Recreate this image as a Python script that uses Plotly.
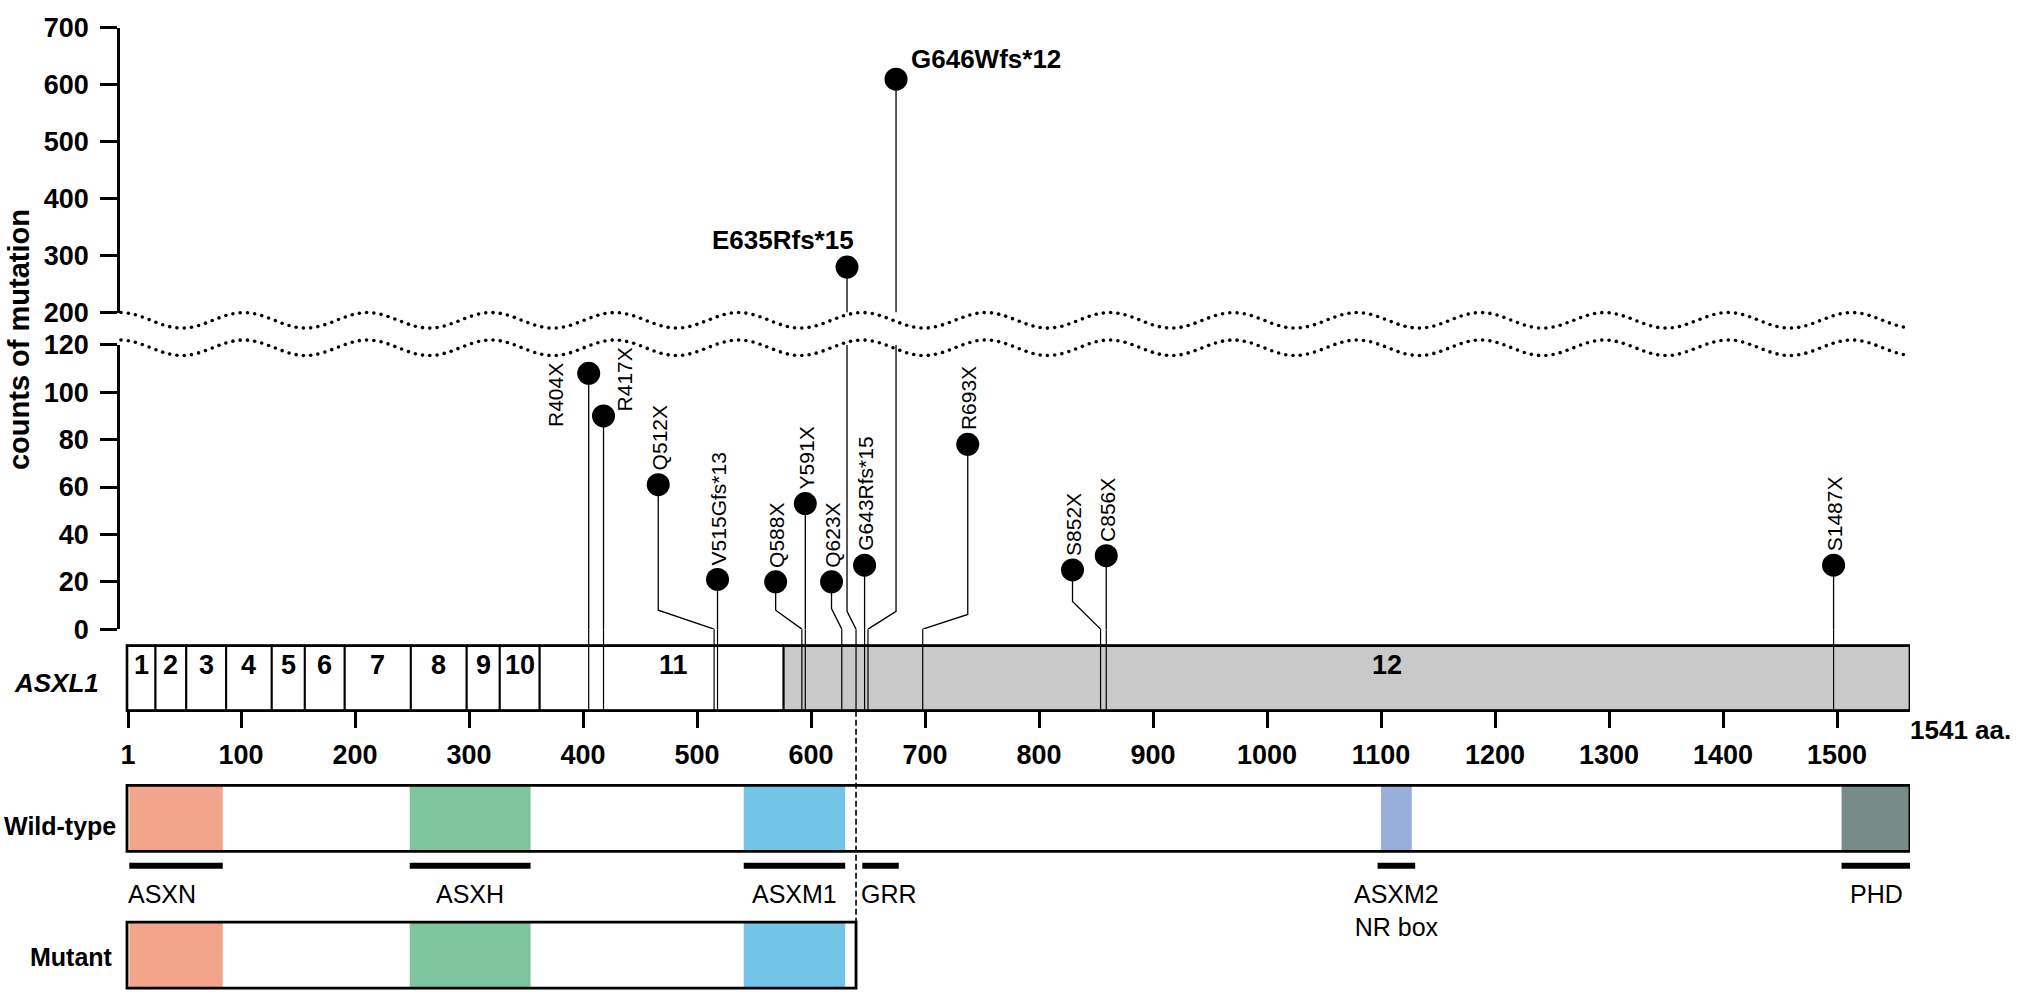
import numpy as np
import plotly.graph_objects as go

W, H = 2024, 1007
FONT = "Liberation Sans, Arial, Helvetica, sans-serif"

# ---------------- data ----------------
mut_names = ["R404X", "R417X", "Q512X", "V515Gfs*13", "Q588X", "Y591X", "Q623X",
             "E635Rfs*15", "G643Rfs*15", "G646Wfs*12", "R693X", "S852X", "C856X", "S1487X"]
# position (aa) where each stem meets the ASXL1 bar, as drawn
mut_site = [405, 418, 515, 518, 592, 595, 627, 639.5, 647, 650, 698, 854, 859, 1497]
mut_count = [108, 90, 61, 21, 20, 53, 20, 280, 27, 610, 78, 25, 31, 27]

exon_labels = ["1", "2", "3", "4", "5", "6", "7", "8", "9", "10", "11", "12"]
exon_bounds = [1, 25, 52, 87, 127, 156, 191, 249, 298, 327, 362, 576, 1564]

domain_names = ["ASXN", "ASXH", "ASXM1", "ASXM2", "PHD"]
domain_start = [2, 248, 541, 1100, 1504]
domain_end = [84, 354, 630, 1127, 1564]

bar_names = ["ASXN", "ASXH", "ASXM1", "GRR", "ASXM2<br>NR box", "PHD"]
bar_start = [2, 248, 541, 645, 1097, 1504]
bar_end = [84, 354, 630, 677, 1130, 1566]

truncation_aa = 639.5
protein_len_label = "1541 aa."

x_ticks = [1, 100, 200, 300, 400, 500, 600, 700, 800, 900, 1000, 1100, 1200, 1300, 1400, 1500]
lower_ticks = [0, 20, 40, 60, 80, 100, 120]
upper_ticks = [200, 300, 400, 500, 600, 700]

# ---------------- layout helpers (positions / styles) ----------------
def py(p):
    return 1 - p / H

def pxf(p):
    return p / W

# lollipop head x-positions (aa) and bend heights (count) used to avoid overlaps
head_x = [405, 418, 466, 518, 569, 595, 618, 631.6, 647, 674.6, 737.5, 829.4, 859, 1497]
bend_y = [None, None, 8, None, 8, None, 8.7, 7.5, None, 7.5, 6.2, 11.7, None, None]

exon_label_x = [(a + b) / 2 for a, b in zip(exon_bounds[:-1], exon_bounds[1:])]
exon_label_x[10] = 479
exon_label_x[11] = 1105

domain_colors = ["#F3A58B", "#7EC49C", "#73C5E7", "#98AFDC", "#798B89"]
exon_fill = ["white"] * 11 + ["#C8C9C8"]

BOX_TOP, BOX_BOT = 650, 717
WT_TOP, WT_BOT = 794, 862
MU_TOP, MU_BOT = 935, 1003
BAR_Y = 877
LAB_TOP = 889
STEM_TOP = 633

fig = go.Figure()

# ---- stems ----
lx, ly, ux, uy = [], [], [], []
for i, c in enumerate(mut_count):
    h, s, b = head_x[i], mut_site[i], bend_y[i]
    if c <= 120:
        if b is None:
            lx += [h, h, s, None]; ly += [c, 0, 0, None]
        else:
            lx += [h, h, s, None]; ly += [c, b, 0, None]
    else:
        ux += [h, h, None]; uy += [c, 200, None]
        lx += [h, h, s, None]; ly += [120, b, 0, None]

fig.add_trace(go.Scatter(x=lx, y=ly, mode="lines", line=dict(color="black", width=1.3),
                         xaxis="x", yaxis="y", hoverinfo="skip", showlegend=False))
fig.add_trace(go.Scatter(x=ux, y=uy, mode="lines", line=dict(color="black", width=1.3),
                         xaxis="x", yaxis="y2", hoverinfo="skip", showlegend=False))

lo_idx = [i for i, c in enumerate(mut_count) if c <= 120]
hi_idx = [i for i, c in enumerate(mut_count) if c > 120]
fig.add_trace(go.Scatter(x=[head_x[i] for i in lo_idx], y=[mut_count[i] for i in lo_idx],
                         mode="markers", marker=dict(color="black", size=23),
                         xaxis="x", yaxis="y", cliponaxis=False, showlegend=False,
                         text=[mut_names[i] for i in lo_idx], hoverinfo="text"))
fig.add_trace(go.Scatter(x=[head_x[i] for i in hi_idx], y=[mut_count[i] for i in hi_idx],
                         mode="markers", marker=dict(color="black", size=23),
                         xaxis="x", yaxis="y2", cliponaxis=False, showlegend=False,
                         text=[mut_names[i] for i in hi_idx], hoverinfo="text"))

# ---- axis-break waves (decorative, pixel overlay) ----
def wave_pts(yc, x0=121, x1=1908, amp=8.0, period=123.7, phase=120, step=7.3):
    xs = np.linspace(x0, x1, 6000)
    ys = yc - amp * np.cos(2 * np.pi * (xs - phase) / period)
    s = np.concatenate([[0], np.cumsum(np.hypot(np.diff(xs), np.diff(ys)))])
    t = np.arange(0, s[-1], step)
    return np.interp(t, s, xs), np.interp(t, s, ys)

for yc in (314.7, 343.0):
    wx, wy = wave_pts(yc)
    fig.add_trace(go.Scatter(x=wx, y=wy, mode="markers", marker=dict(color="black", size=3.6),
                             xaxis="x2", yaxis="y3", hoverinfo="skip", showlegend=False))

shapes = []
# ---- ASXL1 exon bar ----
for i in range(len(exon_labels)):
    shapes.append(dict(type="rect", xref="x", yref="paper",
                       x0=exon_bounds[i] if i else 0, x1=exon_bounds[i + 1],
                       y0=py(BOX_BOT), y1=py(BOX_TOP), fillcolor=exon_fill[i],
                       line=dict(color="black", width=2), layer="below"))
shapes.append(dict(type="rect", xref="x", yref="paper", x0=0, x1=exon_bounds[-1],
                   y0=py(BOX_BOT), y1=py(BOX_TOP), fillcolor="rgba(0,0,0,0)",
                   line=dict(color="black", width=2.6)))
for s in mut_site:
    shapes.append(dict(type="line", xref="x", yref="paper", x0=s, x1=s,
                       y0=py(STEM_TOP), y1=py(BOX_BOT), line=dict(color="black", width=1.2)))

# ---- wild-type & mutant proteins ----
for i, n in enumerate(domain_names):
    shapes.append(dict(type="rect", xref="x", yref="paper", x0=domain_start[i], x1=domain_end[i],
                       y0=py(WT_BOT), y1=py(WT_TOP), fillcolor=domain_colors[i],
                       line=dict(width=0)))
    if domain_end[i] <= truncation_aa:
        shapes.append(dict(type="rect", xref="x", yref="paper", x0=domain_start[i], x1=domain_end[i],
                           y0=py(MU_BOT), y1=py(MU_TOP), fillcolor=domain_colors[i],
                           line=dict(width=0)))
shapes.append(dict(type="rect", xref="x", yref="paper", x0=0, x1=exon_bounds[-1],
                   y0=py(WT_BOT), y1=py(WT_TOP), line=dict(color="black", width=2.8)))
shapes.append(dict(type="rect", xref="x", yref="paper", x0=0, x1=truncation_aa,
                   y0=py(MU_BOT), y1=py(MU_TOP), line=dict(color="black", width=2.8)))
for i in range(len(bar_names)):
    shapes.append(dict(type="line", xref="x", yref="paper", x0=bar_start[i], x1=bar_end[i],
                       y0=py(BAR_Y), y1=py(BAR_Y), line=dict(color="black", width=6)))
shapes.append(dict(type="line", xref="x", yref="paper", x0=truncation_aa, x1=truncation_aa,
                   y0=py(BOX_BOT), y1=py(MU_TOP), line=dict(color="black", width=1.6, dash="6px,3px")))

annotations = []
for lab, xx in zip(exon_labels, exon_label_x):
    annotations.append(dict(x=xx, y=py((BOX_TOP + BOX_BOT) / 2 + 4), xref="x", yref="paper",
                            text="<b>%s</b>" % lab, showarrow=False,
                            font=dict(family=FONT, size=27, color="black")))
special = {
    "R404X": dict(xanchor="center", yanchor="middle", xshift=-33, yshift=-22, textangle=-90),
    "R417X": dict(xanchor="center", yanchor="middle", xshift=21, yshift=36, textangle=-90),
}
for i, n in enumerate(mut_names):
    yref = "y" if mut_count[i] <= 120 else "y2"
    if n == "E635Rfs*15":
        annotations.append(dict(x=head_x[i], y=mut_count[i], xref="x", yref=yref, text="<b>%s</b>" % n,
                                showarrow=False, xanchor="right", yanchor="middle", xshift=9, yshift=27,
                                font=dict(family=FONT, size=26, color="black")))
    elif n == "G646Wfs*12":
        annotations.append(dict(x=head_x[i], y=mut_count[i], xref="x", yref=yref, text="<b>%s</b>" % n,
                                showarrow=False, xanchor="left", yanchor="middle", xshift=13, yshift=20,
                                font=dict(family=FONT, size=26, color="black")))
    else:
        st = special.get(n, dict(xanchor="center", yanchor="bottom", xshift=1, yshift=12, textangle=-90))
        annotations.append(dict(x=head_x[i], y=mut_count[i], xref="x", yref=yref, text=n,
                                showarrow=False, font=dict(family=FONT, size=21, color="black"), **st))
for i, n in enumerate(bar_names):
    if n in ("ASXN", "GRR"):
        annotations.append(dict(x=bar_start[i], y=py(LAB_TOP), xref="x", yref="paper", text=n,
                                showarrow=False, xanchor="left", yanchor="top", xshift=-3,
                                font=dict(family=FONT, size=25, color="black")))
    else:
        annotations.append(dict(x=(bar_start[i] + bar_end[i]) / 2, y=py(LAB_TOP), xref="x", yref="paper",
                                text=n, showarrow=False, xanchor="center", yanchor="top",
                                font=dict(family=FONT, size=25, color="black")))
annotations += [
    dict(x=pxf(101), y=py(688), xref="paper", yref="paper", text="<b><i>ASXL1</i></b>", showarrow=False,
         xanchor="right", yanchor="middle", font=dict(family=FONT, size=26, color="black")),
    dict(x=pxf(118), y=py(836), xref="paper", yref="paper", text="<b>Wild-type</b>", showarrow=False,
         xanchor="right", yanchor="middle", font=dict(family=FONT, size=25, color="black")),
    dict(x=pxf(115), y=py(971), xref="paper", yref="paper", text="<b>Mutant</b>", showarrow=False,
         xanchor="right", yanchor="middle", font=dict(family=FONT, size=25, color="black")),
    dict(x=pxf(1908), y=py(737), xref="paper", yref="paper", text="<b>%s</b>" % protein_len_label,
         showarrow=False, xanchor="left", yanchor="middle", font=dict(family=FONT, size=26, color="black")),
    dict(x=pxf(19), y=py(335), xref="paper", yref="paper", text="<b>counts of mutation</b>", showarrow=False,
         textangle=-90, xanchor="center", yanchor="middle", font=dict(family=FONT, size=29, color="black")),
]

X0_PX, X1_PX = 120, 1910
A_PER_PX = 1 / 1.14
x_range = [(X0_PX - 127) * A_PER_PX, (X1_PX - 127) * A_PER_PX]

tickfont = dict(family=FONT, size=27, color="black", weight="bold")
yax_common = dict(showgrid=False, zeroline=False, showline=True, linecolor="black", linewidth=2.6,
                  ticks="outside", ticklen=17, tickwidth=2.6, tickcolor="black",
                  tickfont=tickfont, anchor="x", ticklabelstandoff=6)

fig.update_layout(
    width=W, height=H, margin=dict(l=0, r=0, t=0, b=0),
    paper_bgcolor="white", plot_bgcolor="rgba(0,0,0,0)",
    showlegend=False,
    xaxis=dict(domain=[pxf(X0_PX), pxf(X1_PX)], range=x_range, anchor="free", position=py(BOX_BOT),
               showgrid=False, zeroline=False, showline=False, ticks="outside", ticklen=16,
               tickwidth=2.6, tickcolor="black", tickvals=x_ticks, ticktext=[str(t) for t in x_ticks],
               tickfont=tickfont, ticklabelstandoff=4),
    yaxis=dict(domain=[py(STEM_TOP), py(340)], range=[0, 120], tickvals=lower_ticks, **yax_common),
    yaxis2=dict(domain=[py(306.7), py(13.3)], range=[200, 700], tickvals=upper_ticks, **yax_common),
    xaxis2=dict(domain=[0, 1], range=[0, W], visible=False, anchor="y3"),
    yaxis3=dict(domain=[0, 1], range=[H, 0], visible=False, anchor="x2"),
    shapes=shapes, annotations=annotations,
)

fig.write_html(
    "out.html",
    config={"displayModeBar": False},
    post_script="document.documentElement.style.margin='0';document.body.style.margin='0';"
                "document.body.style.padding='0';document.body.style.overflow='hidden';"
                "document.documentElement.style.overflow='hidden';",
)
